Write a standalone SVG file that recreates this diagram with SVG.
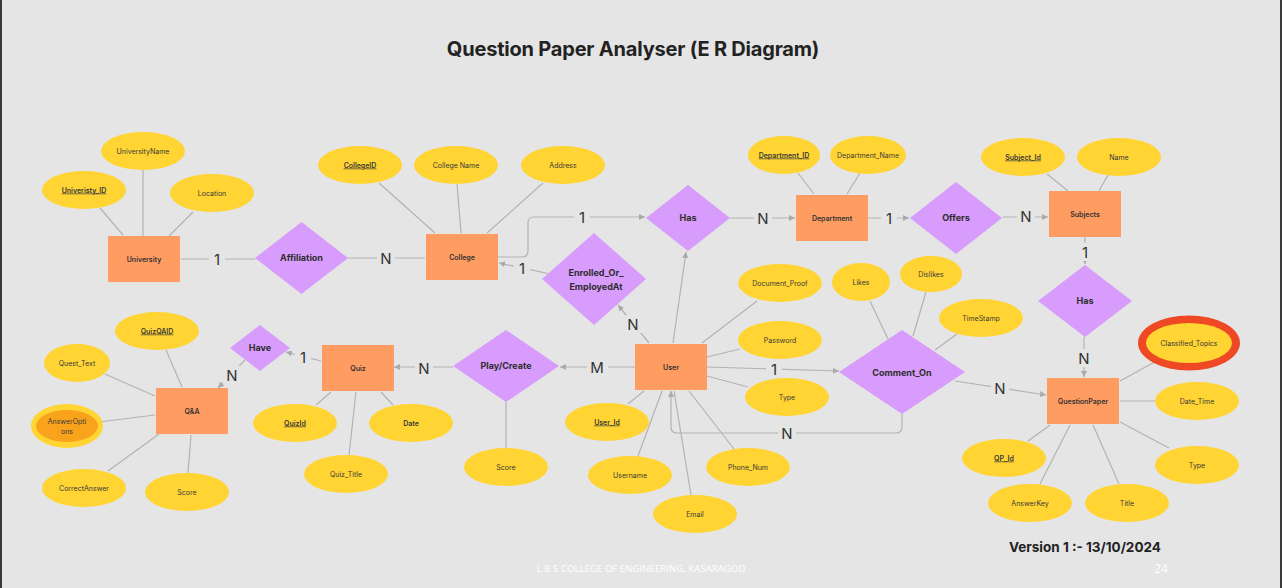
<svg xmlns="http://www.w3.org/2000/svg" width="1282" height="588" viewBox="0 0 1282 588">
<defs>
<style>
.ent{fill:#FF9C62}
.rel{fill:#D89CFC}
.att{fill:#FFD433}
.ln{stroke:#b3b3b3;stroke-width:1.2;fill:none}
.t{font-family:Inter,"Liberation Sans",sans-serif;fill:#333;text-anchor:middle}
.et{font-size:7px;font-weight:600}
.rt{font-size:9px;font-weight:700;fill:#2d2d2d}
.at{font-size:7px;font-weight:400;fill:#3a3a3a}
.u{font-weight:600;text-decoration:underline}
.card{font-size:15px;font-weight:400;fill:#333}
.lb{fill:#e5e5e5}
</style>
<marker id="ar" viewBox="0 0 6 6" refX="6" refY="3" markerWidth="6" markerHeight="6" markerUnits="userSpaceOnUse" orient="auto">
<path d="M0,0 L6,3 L0,6 z" fill="#aaaaaa"/>
</marker>
</defs>
<rect x="0" y="0" width="1282" height="588" fill="#e5e5e5"/>
<rect x="0" y="0" width="2" height="588" fill="#3a3a3a"/>
<rect x="1280" y="0" width="2" height="588" fill="#3a3a3a"/>
<text class="t" x="633" y="56" style="font-size:20px;font-weight:700;fill:#222" letter-spacing="-0.2">Question Paper Analyser (E R Diagram)</text>

<g id="connectors">
<path class="ln" d="M100,208 L123,235"/>
<path class="ln" d="M143,170 L143,236"/>
<path class="ln" d="M193,212 L169,236"/>
<path class="ln" d="M379,183 L435,233"/>
<path class="ln" d="M457,184 L461,233"/>
<path class="ln" d="M543,183 L487,233"/>
<path class="ln" d="M798,173 L814,194"/>
<path class="ln" d="M860,173 L847,194"/>
<path class="ln" d="M1047,174 L1068,191"/>
<path class="ln" d="M1108,175 L1099,191"/>
<path class="ln" d="M166,350 L182,387"/>
<path class="ln" d="M105,374 L155,396"/>
<path class="ln" d="M99,422 L155,415"/>
<path class="ln" d="M108,471 L159,434"/>
<path class="ln" d="M188,473 L191,435"/>
<path class="ln" d="M316,405 L331,392"/>
<path class="ln" d="M349,455 L356,392"/>
<path class="ln" d="M393,405 L381,392"/>
<path class="ln" d="M506,402 L506,448"/>
<path class="ln" d="M757,301 L702,343"/>
<path class="ln" d="M740,349 L707,357"/>
<path class="ln" d="M748,387 L707,376"/>
<path class="ln" d="M628,404 L644,391"/>
<path class="ln" d="M638,456 L662,391"/>
<path class="ln" d="M691,495 L674,391"/>
<path class="ln" d="M734,449 L689,391"/>
<path class="ln" d="M870,301 L888,339"/>
<path class="ln" d="M926,292 L913,336"/>
<path class="ln" d="M957,334 L935,350"/>
<path class="ln" d="M1160,359 L1120,381"/>
<path class="ln" d="M1155,401 L1120,401"/>
<path class="ln" d="M1169,448 L1120,422"/>
<path class="ln" d="M1028,441 L1050,425"/>
<path class="ln" d="M1040,484 L1070,425"/>
<path class="ln" d="M1119,484 L1093,425"/>
<path class="ln" d="M181,259 H255"/>
<path class="ln" d="M348,258 H425"/>
<path class="ln" d="M498,257 H522 Q528,257 528,251 V223 Q528,217 534,217 H645" marker-end="url(#ar)"/>
<path class="ln" d="M548,273.5 L499,263" marker-end="url(#ar)"/>
<path class="ln" d="M730,218 H795" marker-end="url(#ar)"/>
<path class="ln" d="M868,218 H909" marker-end="url(#ar)"/>
<path class="ln" d="M1003,217 H1048" marker-end="url(#ar)"/>
<path class="ln" d="M1085,237 V264" marker-end="url(#ar)"/>
<path class="ln" d="M1084,337 V377" marker-end="url(#ar)"/>
<path class="ln" d="M955,381 L1046,395" marker-end="url(#ar)"/>
<path class="ln" d="M707,367 L839,371" marker-end="url(#ar)"/>
<path class="ln" d="M902,414 V427 Q902,433 896,433 H677 Q671,433 671,427 V391" marker-end="url(#ar)"/>
<path class="ln" d="M635,367 H560" marker-end="url(#ar)"/>
<path class="ln" d="M453,367 H394" marker-end="url(#ar)"/>
<path class="ln" d="M321,361 L286,352" marker-end="url(#ar)"/>
<path class="ln" d="M245,360 L218,388" marker-end="url(#ar)"/>
<path class="ln" d="M649,343 L618,305" marker-end="url(#ar)"/>
<path class="ln" d="M673,343 L686,252" marker-end="url(#ar)"/>
<rect class="lb" x="209" y="250" width="16" height="18"/><text class="t card" x="217" y="264.5">1</text>
<rect class="lb" x="377" y="249" width="18" height="18"/><text class="t card" x="386" y="263.5">N</text>
<rect class="lb" x="574" y="208" width="16" height="18"/><text class="t card" x="582" y="222.5">1</text>
<rect class="lb" x="514" y="259" width="16" height="18"/><text class="t card" x="522" y="273.5">1</text>
<rect class="lb" x="754" y="209" width="18" height="18"/><text class="t card" x="763" y="223.5">N</text>
<rect class="lb" x="881" y="209" width="16" height="18"/><text class="t card" x="889" y="223.5">1</text>
<rect class="lb" x="1017" y="207" width="18" height="18"/><text class="t card" x="1026" y="221.5">N</text>
<rect class="lb" x="1077" y="243" width="16" height="18"/><text class="t card" x="1085" y="257.5">1</text>
<rect class="lb" x="1075" y="349" width="18" height="18"/><text class="t card" x="1084" y="363.5">N</text>
<rect class="lb" x="991" y="379" width="18" height="18"/><text class="t card" x="1000" y="393.5">N</text>
<rect class="lb" x="766" y="360" width="16" height="18"/><text class="t card" x="774" y="374.5">1</text>
<rect class="lb" x="778" y="424" width="18" height="18"/><text class="t card" x="787" y="438.5">N</text>
<rect class="lb" x="587" y="358" width="21" height="18"/><text class="t card" x="597" y="372.5">M</text>
<rect class="lb" x="415" y="359" width="18" height="18"/><text class="t card" x="424" y="373.5">N</text>
<rect class="lb" x="295" y="348" width="16" height="18"/><text class="t card" x="303" y="362.5">1</text>
<rect class="lb" x="223" y="366" width="18" height="18"/><text class="t card" x="232" y="380.5">N</text>
<rect class="lb" x="624" y="315" width="18" height="18"/><text class="t card" x="633" y="329.5">N</text>
</g>

<g id="University"><rect class="ent" x="108" y="236" width="72" height="46"/><text class="t et" x="144" y="261.5">University</text></g>
<g id="College"><rect class="ent" x="426" y="234" width="72" height="46"/><text class="t et" x="462" y="259.5">College</text></g>
<g id="Department"><rect class="ent" x="796" y="195" width="72" height="46"/><text class="t et" x="832" y="220.5">Department</text></g>
<g id="Subjects"><rect class="ent" x="1049" y="191" width="72" height="46"/><text class="t et" x="1085" y="216.5">Subjects</text></g>
<g id="QA"><rect class="ent" x="156" y="388" width="72" height="46"/><text class="t et" x="192" y="413.5">Q&amp;A</text></g>
<g id="Quiz"><rect class="ent" x="322" y="345" width="72" height="46"/><text class="t et" x="358" y="370.5">Quiz</text></g>
<g id="User"><rect class="ent" x="635" y="344" width="72" height="46"/><text class="t et" x="671" y="369.5">User</text></g>
<g id="QuestionPaper"><rect class="ent" x="1047" y="378" width="72" height="46"/><text class="t et" x="1083" y="403.5">QuestionPaper</text></g>

<g id="Affiliation"><polygon class="rel" points="255,258 301.5,222 348,258 301.5,294"/><text class="t rt" x="301.5" y="261">Affiliation</text></g>
<g id="Has1"><polygon class="rel" points="646,218 688,185 730,218 688,251"/><text class="t rt" x="688" y="221">Has</text></g>
<g id="Enrolled"><polygon class="rel" points="542,279 594,233 646,279 594,325"/><text class="t rt" x="596" y="276">Enrolled_Or_</text><text class="t rt" x="596" y="290">EmployedAt</text></g>
<g id="Offers"><polygon class="rel" points="910,218 956,182 1002,218 956,254"/><text class="t rt" x="956" y="221">Offers</text></g>
<g id="Has2"><polygon class="rel" points="1038,301 1085,265 1132,301 1085,337"/><text class="t rt" x="1085" y="304">Has</text></g>
<g id="Have"><polygon class="rel" points="230,348 260,325 290,348 260,371"/><text class="t rt" x="260" y="351">Have</text></g>
<g id="PlayCreate"><polygon class="rel" points="453,366 506,330 559,366 506,402"/><text class="t rt" x="506" y="369">Play/Create</text></g>
<g id="CommentOn"><polygon class="rel" points="839,372 902,330 965,372 902,414"/><text class="t rt" x="902" y="375.5">Comment_On</text></g>

<g id="a-UniversityName"><ellipse class="att" cx="143" cy="151" rx="42" ry="19"/><text class="t at" x="143" y="153.5">UniversityName</text></g>
<g id="a-UniveristyID"><ellipse class="att" cx="84" cy="190" rx="42" ry="19"/><text class="t at u" x="84" y="192.5">Univeristy_ID</text></g>
<g id="a-Location"><ellipse class="att" cx="212" cy="193" rx="42" ry="19"/><text class="t at" x="212" y="195.5">Location</text></g>
<g id="a-CollegeID"><ellipse class="att" cx="360" cy="165" rx="42" ry="19"/><text class="t at u" x="360" y="167.5">CollegeID</text></g>
<g id="a-CollegeName"><ellipse class="att" cx="456" cy="165" rx="42" ry="19"/><text class="t at" x="456" y="167.5">College Name</text></g>
<g id="a-Address"><ellipse class="att" cx="563" cy="165" rx="42" ry="19"/><text class="t at" x="563" y="167.5">Address</text></g>
<g id="a-DepartmentID"><ellipse class="att" cx="784" cy="155" rx="36" ry="19"/><text class="t at u" x="784" y="157.5">Department_ID</text></g>
<g id="a-DepartmentName"><ellipse class="att" cx="868" cy="155" rx="38" ry="19"/><text class="t at" x="868" y="157.5">Department_Name</text></g>
<g id="a-SubjectId"><ellipse class="att" cx="1023" cy="157" rx="42" ry="19"/><text class="t at u" x="1023" y="159.5">Subject_Id</text></g>
<g id="a-Name"><ellipse class="att" cx="1119" cy="157" rx="42" ry="19"/><text class="t at" x="1119" y="159.5">Name</text></g>
<g id="a-DocumentProof"><ellipse class="att" cx="780" cy="283" rx="42" ry="19"/><text class="t at" x="780" y="285.5">Document_Proof</text></g>
<g id="a-Password"><ellipse class="att" cx="780" cy="340" rx="42" ry="19"/><text class="t at" x="780" y="342.5">Password</text></g>
<g id="a-UserType"><ellipse class="att" cx="787" cy="397" rx="42" ry="19"/><text class="t at" x="787" y="399.5">Type</text></g>
<g id="a-UserId"><ellipse class="att" cx="607" cy="422" rx="42" ry="19"/><text class="t at u" x="607" y="424.5">User_Id</text></g>
<g id="a-Username"><ellipse class="att" cx="630" cy="475" rx="42" ry="19"/><text class="t at" x="630" y="477.5">Username</text></g>
<g id="a-Email"><ellipse class="att" cx="695" cy="514" rx="42" ry="19"/><text class="t at" x="695" y="516.5">Email</text></g>
<g id="a-PhoneNum"><ellipse class="att" cx="748" cy="467" rx="42" ry="19"/><text class="t at" x="748" y="469.5">Phone_Num</text></g>
<g id="a-PlayScore"><ellipse class="att" cx="506" cy="467" rx="42" ry="19"/><text class="t at" x="506" y="469.5">Score</text></g>
<g id="a-Likes"><ellipse class="att" cx="861" cy="282" rx="29" ry="19"/><text class="t at" x="861" y="284.5">Likes</text></g>
<g id="a-Dislikes"><ellipse class="att" cx="931" cy="274" rx="31" ry="18"/><text class="t at" x="931" y="276.5">Dislikes</text></g>
<g id="a-TimeStamp"><ellipse class="att" cx="981" cy="318" rx="42" ry="19"/><text class="t at" x="981" y="320.5">TimeStamp</text></g>
<g id="a-ClassifiedTopics"><ellipse cx="1189" cy="343" rx="51" ry="27.5" fill="#EE4824"/><ellipse class="att" cx="1189" cy="343" rx="43" ry="20"/><text class="t at" x="1189" y="345.5">Classified_Topics</text></g>
<g id="a-DateTime"><ellipse class="att" cx="1197" cy="401" rx="42" ry="19"/><text class="t at" x="1197" y="403.5">Date_Time</text></g>
<g id="a-QPType"><ellipse class="att" cx="1197" cy="465" rx="42" ry="19"/><text class="t at" x="1197" y="467.5">Type</text></g>
<g id="a-QPId"><ellipse class="att" cx="1004" cy="458" rx="42" ry="19"/><text class="t at u" x="1004" y="460.5">QP_Id</text></g>
<g id="a-AnswerKey"><ellipse class="att" cx="1030" cy="503" rx="42" ry="19"/><text class="t at" x="1030" y="505.5">AnswerKey</text></g>
<g id="a-Title"><ellipse class="att" cx="1127" cy="503" rx="42" ry="19"/><text class="t at" x="1127" y="505.5">Title</text></g>
<g id="a-QuizQAID"><ellipse class="att" cx="157" cy="331" rx="42" ry="19"/><text class="t at u" x="157" y="333.5">QuizQAID</text></g>
<g id="a-QuestText"><ellipse class="att" cx="77" cy="363" rx="33" ry="19"/><text class="t at" x="77" y="365.5">Quest_Text</text></g>
<g id="a-AnswerOptions"><ellipse class="att" cx="67" cy="426" rx="36" ry="22"/><ellipse cx="67" cy="426" rx="31" ry="16" fill="#F9A21C"/><text class="t at" x="67" y="423.5">AnswerOpti</text><text class="t at" x="67" y="434">ons</text></g>
<g id="a-CorrectAnswer"><ellipse class="att" cx="84" cy="488" rx="42" ry="19"/><text class="t at" x="84" y="490.5">CorrectAnswer</text></g>
<g id="a-QAScore"><ellipse class="att" cx="187" cy="492" rx="42" ry="19"/><text class="t at" x="187" y="494.5">Score</text></g>
<g id="a-QuizId"><ellipse class="att" cx="295" cy="423" rx="42" ry="19"/><text class="t at u" x="295" y="425.5">QuizId</text></g>
<g id="a-Date"><ellipse class="att" cx="411" cy="423" rx="42" ry="19"/><text class="t at" x="411" y="425.5" style="font-weight:600">Date</text></g>
<g id="a-QuizTitle"><ellipse class="att" cx="346" cy="474" rx="42" ry="19"/><text class="t at" x="346" y="476.5">Quiz_Title</text></g>

<text x="1009" y="552" style="font-family:Inter,'Liberation Sans',sans-serif;font-size:13.5px;font-weight:700;fill:#222">Version 1 :- 13/10/2024</text>
<text x="641" y="572" style="font-family:'Open Sans','Liberation Sans',sans-serif;font-size:9.5px;fill:#ffffff;text-anchor:middle" letter-spacing="0.1">L B S COLLEGE OF ENGINEERING, KASARAGOD</text>
<text x="1161" y="573" style="font-family:'Open Sans','Liberation Sans',sans-serif;font-size:12px;fill:#ffffff;text-anchor:middle">24</text>
</svg>
